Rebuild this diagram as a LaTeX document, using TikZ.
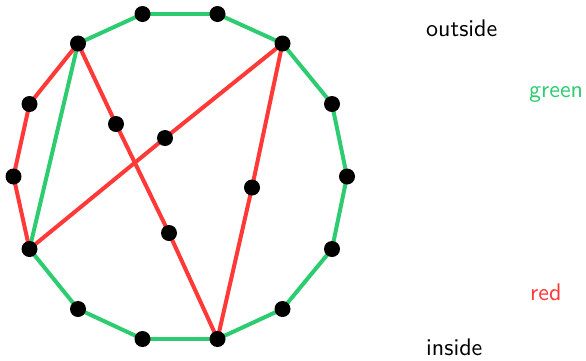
\documentclass[tikz,border=0pt]{standalone}
\usepackage{fontspec}
\newfontfamily\lblfont{lmsans10-regular}[Extension=.otf]
\definecolor{egreen}{RGB}{46,204,113}
\definecolor{ered}{RGB}{255,56,56}
\tikzset{
  gedge/.style={draw=egreen,line width=4pt},
  redge/.style={draw=ered,line width=4pt},
  vdot/.style={circle,fill=black,minimum size=16pt,inner sep=0pt},
  lbl/.style={anchor=base west,inner sep=0pt,font=\lblfont\fontsize{24}{28}\selectfont}
}
\begin{document}
\begin{tikzpicture}[x=1pt,y=-1pt]
\useasboundingbox (0,0) rectangle (586,360);
\coordinate (v0) at (347,176.5);
\coordinate (v1) at (332,104);
\coordinate (v2) at (282.5,43.5);
\coordinate (v3) at (217.5,14);
\coordinate (v4) at (142.5,14);
\coordinate (v5) at (78,43.5);
\coordinate (v6) at (29.5,104);
\coordinate (v7) at (13.5,176.5);
\coordinate (v8) at (29.5,249);
\coordinate (v9) at (78,309);
\coordinate (v10) at (142.5,339);
\coordinate (v11) at (217.5,339);
\coordinate (v12) at (282.5,309);
\coordinate (v13) at (332,249);
\coordinate (a) at (116,124);
\coordinate (b) at (165,138);
\coordinate (c) at (252,187.5);
\coordinate (d) at (169,233);
% green edges
\foreach \p/\q in {v0/v1,v1/v2,v2/v3,v3/v4,v4/v5,v5/v8,v8/v9,v9/v10,v10/v11,v11/v12,v12/v13,v13/v0}
  \draw[gedge] (\p) -- (\q);
% red edges
\foreach \p/\q in {v5/v6,v6/v7,v7/v8,v8/b,b/v2,v2/c,c/v11,v5/a,a/d,d/v11}
  \draw[redge] (\p) -- (\q);
% dots
\foreach \n in {v0,v1,v2,v3,v4,v5,v6,v7,v8,v9,v10,v11,v12,v13,a,b,c,d}
  \node[vdot] (dot\n) at (\n) {};
% labels
\node[lbl] (outside) at (426,36.5) {outside};
\node[lbl,text=egreen] (green) at (529,97) {green};
\node[lbl,text=ered] (red) at (530,300) {red};
\node[lbl] (inside) at (426,355.5) {inside};
\end{tikzpicture}
\end{document}
